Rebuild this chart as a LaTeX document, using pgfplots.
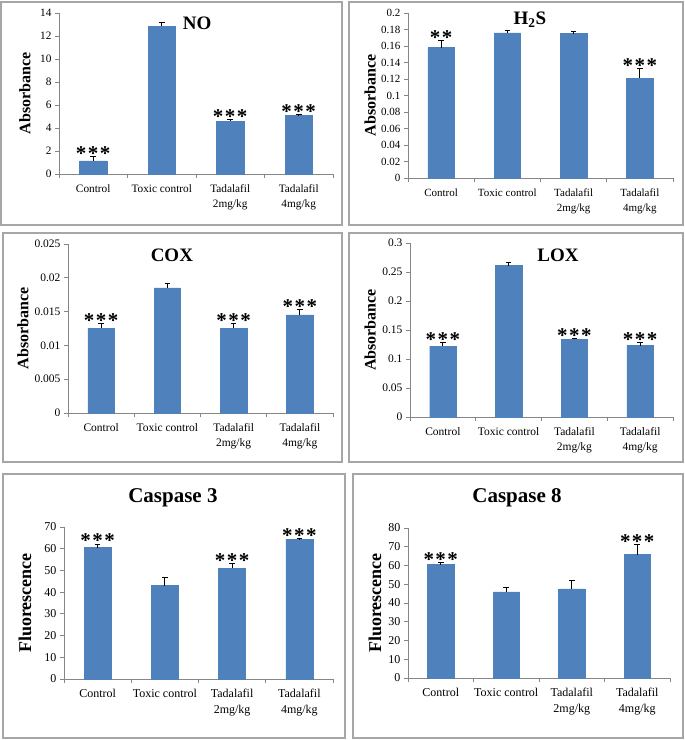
\documentclass[border=0pt]{standalone}
\usepackage{pgfplots}
\pgfplotsset{compat=1.18}
\usepackage{fontspec}
\setmainfont{Liberation Serif}
\definecolor{barblue}{HTML}{4F81BD}
\definecolor{axgray}{HTML}{868686}
\definecolor{boxgray}{HTML}{A6A6A6}
\pgfplotsset{
  panel/.style={
    scale only axis, clip=false,
    xmin=-0.5, xmax=3.5, ymin=0,
    axis lines*=left,
    axis line style={draw=axgray, line width=0.8pt},
    tick align=outside,
    major tick length=4pt,
    tick style={draw=axgray, line width=0.8pt},
    xtick={-0.5,0.5,1.5,2.5,3.5},
    xticklabels={,,,,},
    extra x ticks={0,1,2,3},
    extra x tick labels={Control,Toxic control,{Tadalafil\\2mg/kg},{Tadalafil\\4mg/kg}},
    extra x tick style={major tick length=0pt, xticklabel style={align=center, yshift=-7pt}},
    scaled y ticks=false,
    /pgf/number format/assume math mode=true,
    yticklabel style={/pgf/number format/fixed, /pgf/number format/precision=3},
    ylabel style={font=\bfseries\fontsize{16}{16}\selectfont, anchor=center},
  },
  barplot/.style={
    ybar, bar width=0.4, fill=barblue, draw=barblue,
    error bars/.cd, y dir=plus, y explicit,
    error bar style={draw=black, line width=0.8pt},
    error mark options={draw=black, mark size=2.8pt, line width=0.8pt, rotate=90},
  },
}
\newcommand{\st}[1]{\ifcase#1\or*\or*\hspace{1.5pt}*\or*\hspace{1.5pt}*\hspace{1.5pt}*\fi}
\tikzset{
  stars/.style={anchor=base, font=\bfseries\fontsize{21}{21}\selectfont, inner sep=0pt, yshift=-4pt},
  ptitle/.style={font=\bfseries\fontsize{19}{19}\selectfont, anchor=center},
}
\begin{document}
\begin{tikzpicture}
\useasboundingbox (0pt,0pt) rectangle (685pt,740pt);
% panel frames
\draw[boxgray, line width=1.2pt] (1pt,515pt) rectangle (342pt,738pt);
\draw[boxgray, line width=1.2pt] (349pt,515pt) rectangle (683pt,738pt);
\draw[boxgray, line width=1.2pt] (3pt,278pt) rectangle (342pt,507pt);
\draw[boxgray, line width=1.2pt] (349pt,278pt) rectangle (683pt,507pt);
\draw[boxgray, line width=1.2pt] (3pt,2pt) rectangle (345pt,266pt);
\draw[boxgray, line width=1.2pt] (353pt,2pt) rectangle (683pt,266pt);

% NO
\begin{axis}[panel, at={(59pt,566pt)}, anchor=south west, width=274pt, height=161pt,
  ymax=14, ytick={0,2,...,14},
  ticklabel style={font=\fontsize{11.3}{15}\selectfont},
  ylabel={Absorbance}, ylabel style={at={(axis description cs:-0.124,0.5)}}]
\addplot[barplot] coordinates {(0,1.15) +- (0,0.4) (1,12.85) +- (0,0.3) (2,4.6) +- (0,0.15) (3,5.1) +- (0,0.06)};
\node[stars] at (axis cs:0,1.55) {\st3};
\node[stars] at (axis cs:2,4.75) {\st3};
\node[stars] at (axis cs:3,5.16) {\st3};
\node[ptitle] at (axis description cs:0.504,0.938) {NO};
\end{axis}

% H2S
\begin{axis}[panel, at={(408pt,562pt)}, anchor=south west, width=265pt, height=165pt,
  ymax=0.2, ytick={0,0.02,...,0.201},
  ticklabel style={font=\fontsize{11}{15}\selectfont},
  ylabel={Absorbance}, ylabel style={at={(axis description cs:-0.143,0.5)}}]
\addplot[barplot] coordinates {(0,0.158) +- (0,0.009) (1,0.176) +- (0,0.003) (2,0.175) +- (0,0.003) (3,0.121) +- (0,0.012)};
\node[stars] at (axis cs:0,0.167) {\st2};
\node[stars] at (axis cs:3,0.133) {\st3};
\node[ptitle] at (axis description cs:0.46,0.958) {H\textsubscript{2}S};
\end{axis}

% COX
\begin{axis}[panel, at={(68pt,327pt)}, anchor=south west, width=265pt, height=169pt,
  ymax=0.025, ytick={0,0.005,0.01,0.015,0.02,0.025},
  yticklabels={0,0.005,0.01,0.015,0.02,0.025},
  ticklabel style={font=\fontsize{11.5}{15}\selectfont},
  ylabel={Absorbance}, ylabel style={at={(axis description cs:-0.17,0.5)}}]
\addplot[barplot] coordinates {(0,0.0125) +- (0,0.0008) (1,0.0185) +- (0,0.0007) (2,0.0125) +- (0,0.0008) (3,0.0145) +- (0,0.0008)};
\node[stars] at (axis cs:0,0.0133) {\st3};
\node[stars] at (axis cs:2,0.0133) {\st3};
\node[stars] at (axis cs:3,0.0153) {\st3};
\node[ptitle] at (axis description cs:0.392,0.935) {COX};
\end{axis}

% LOX
\begin{axis}[panel, at={(410pt,323pt)}, anchor=south west, width=263pt, height=174pt,
  ymax=0.3, ytick={0,0.05,0.1,0.15,0.2,0.25,0.3},
  yticklabels={0,0.05,0.1,0.15,0.2,0.25,0.3},
  ticklabel style={font=\fontsize{11.5}{15}\selectfont},
  ylabel={Absorbance}, ylabel style={at={(axis description cs:-0.152,0.5)}}]
\addplot[barplot] coordinates {(0,0.122) +- (0,0.007) (1,0.261) +- (0,0.006) (2,0.134) +- (0,0.002) (3,0.123) +- (0,0.006)};
\node[stars] at (axis cs:0,0.129) {\st3};
\node[stars] at (axis cs:2,0.136) {\st3};
\node[stars] at (axis cs:3,0.129) {\st3};
\node[ptitle] at (axis description cs:0.563,0.931) {LOX};
\end{axis}

% Caspase 3
\begin{axis}[panel, at={(64pt,61pt)}, anchor=south west, width=269pt, height=152pt,
  ymax=70, ytick={0,10,...,70},
  ticklabel style={font=\fontsize{12}{16}\selectfont},
  ylabel={Fluorescence}, ylabel style={font=\bfseries\fontsize{18}{18}\selectfont, at={(axis description cs:-0.145,0.5)}}]
\addplot[barplot] coordinates {(0,60.5) +- (0,1.7) (1,43) +- (0,4) (2,51) +- (0,2.2) (3,64.3) +- (0,0.3)};
\node[stars] at (axis cs:0,62.2) {\st3};
\node[stars] at (axis cs:2,53.2) {\st3};
\node[stars] at (axis cs:3,64.6) {\st3};
\node[ptitle, font=\bfseries\fontsize{21}{21}\selectfont] at (axis description cs:0.405,1.19) {Caspase 3};
\end{axis}

% Caspase 8
\begin{axis}[panel, at={(408pt,62pt)}, anchor=south west, width=262pt, height=150pt,
  ymax=80, ytick={0,10,...,80},
  ticklabel style={font=\fontsize{12}{16}\selectfont},
  ylabel={Fluorescence}, ylabel style={font=\bfseries\fontsize{18}{18}\selectfont, at={(axis description cs:-0.126,0.5)}}]
\addplot[barplot] coordinates {(0,60.5) +- (0,1) (1,46) +- (0,2.3) (2,47.5) +- (0,4.3) (3,65.8) +- (0,5.5)};
\node[stars] at (axis cs:0,61.5) {\st3};
\node[stars] at (axis cs:3,71.3) {\st3};
\node[ptitle, font=\bfseries\fontsize{21}{21}\selectfont] at (axis description cs:0.416,1.2) {Caspase 8};
\end{axis}
\end{tikzpicture}
\end{document}
